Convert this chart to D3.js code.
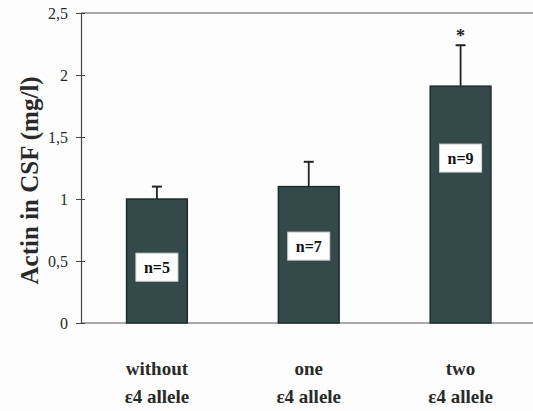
<!DOCTYPE html>
<html><head><meta charset="utf-8">
<script src="https://cdn.jsdelivr.net/npm/d3@7"></script>
</head><body style="margin:0;background:#fcfdfc">
<script>
const categories = [["without","ε4 allele"],["one","ε4 allele"],["two","ε4 allele"]];
const means = [1.0, 1.10, 1.91];
const errors = [0.10, 0.20, 0.33];
const nLabels = ["n=5","n=7","n=9"];
const nLabelValues = [0.45, 0.62, 1.33];
const significance = ["", "", "*"];
const yTicks = [0, 0.5, 1, 1.5, 2, 2.5];

const W = 533, H = 411;
const fontNames = ["Liberation Serif", "Tinos", "Times New Roman"];
const FONT = fontNames.map(f => `"${f}"`).join(", ");
const svg = d3.select("body").append("svg").attr("width", W).attr("height", H)
  .style("display", "block");
const x0 = 81, x1 = 533;
const y = d3.scaleLinear().domain([0, 2.5]).range([323, 13]);
const x = d3.scaleBand().domain(d3.range(categories.length)).range([81, 536.5]).paddingInner(0.6).paddingOuter(0.3);
const fmt = v => String(v).replace(".", ",");
const ink = "#2a2a2a";

svg.append("line").attr("x1", x0).attr("x2", x1).attr("y1", y(2.5)).attr("y2", y(2.5)).attr("stroke", "#555").attr("stroke-width", 1.2);
svg.append("line").attr("x1", x0).attr("x2", x1).attr("y1", y(0)).attr("y2", y(0)).attr("stroke", "#555").attr("stroke-width", 1.2);

const yAxis = d3.axisLeft(y).tickValues(yTicks).tickFormat(fmt).tickSizeInner(5).tickSizeOuter(0).tickPadding(8);
const gy = svg.append("g").attr("transform", `translate(${x0},0)`).call(yAxis);
gy.select(".domain").attr("stroke", "#444").attr("stroke-width", 1.2);
gy.selectAll(".tick line").attr("stroke", "#444").attr("x1", 4).attr("x2", -5);
gy.selectAll(".tick text").style("font-family", () => FONT).attr("font-size", 16).attr("fill", ink);

svg.selectAll(".ytitle").data(["Actin in CSF (mg/l)"]).enter().append("text")
  .attr("transform", `translate(38,${y(1.15)}) rotate(-90)`).attr("text-anchor", "middle")
  .style("font-family", () => FONT).attr("font-weight", "bold").attr("font-size", 25).attr("fill", ink)
  .text(d => d);

const g = svg.append("g");
const bars = g.selectAll(".bar").data(means).enter();
bars.append("line").attr("x1", (d,i) => x(i) + x.bandwidth()/2).attr("x2", (d,i) => x(i) + x.bandwidth()/2)
  .attr("y1", d => y(d)).attr("y2", (d,i) => y(d + errors[i])).attr("stroke", "#222").attr("stroke-width", 1.8);
bars.append("line").attr("x1", (d,i) => x(i) + x.bandwidth()/2 - 5).attr("x2", (d,i) => x(i) + x.bandwidth()/2 + 5)
  .attr("y1", (d,i) => y(d + errors[i])).attr("y2", (d,i) => y(d + errors[i])).attr("stroke", "#222").attr("stroke-width", 2);
bars.append("rect").attr("x", (d,i) => x(i)).attr("width", x.bandwidth())
  .attr("y", d => y(d)).attr("height", d => y(0) - y(d))
  .attr("fill", "#34494a").attr("stroke", "#1f2e2c").attr("stroke-width", 1.5);

const cx = i => x(i) + x.bandwidth()/2;
g.selectAll(".nbox").data(nLabels).enter().append("rect")
  .attr("x", (d,i) => cx(i) - 21).attr("y", (d,i) => y(nLabelValues[i]) - 14).attr("width", 42).attr("height", 28)
  .attr("fill", "#fff").attr("stroke", "#cfd6d4").attr("stroke-width", 1);
g.selectAll(".ntext").data(nLabels).enter().append("text")
  .attr("x", (d,i) => cx(i)).attr("y", (d,i) => y(nLabelValues[i]) + 6).attr("text-anchor", "middle")
  .style("font-family", () => FONT).attr("font-weight", "bold").attr("font-size", 16).attr("fill", "#111")
  .text(d => d);
g.selectAll(".sig").data(significance).enter().append("text")
  .attr("x", (d,i) => cx(i)).attr("y", (d,i) => y(means[i] + errors[i]) - 3).attr("text-anchor", "middle")
  .style("font-family", () => FONT).attr("font-weight", "bold").attr("font-size", 18).attr("fill", "#222")
  .text(d => d);
const cats = svg.selectAll(".cat").data(categories).enter().append("text").attr("text-anchor", "middle")
  .style("font-family", () => FONT).attr("font-weight", "bold").attr("font-size", 19).attr("fill", ink);
cats.append("tspan").attr("x", (d,i) => cx(i)).attr("y", 375).text(d => d[0]);
cats.append("tspan").attr("x", (d,i) => cx(i)).attr("y", 403).text(d => d[1]);
</script>
</body></html>
